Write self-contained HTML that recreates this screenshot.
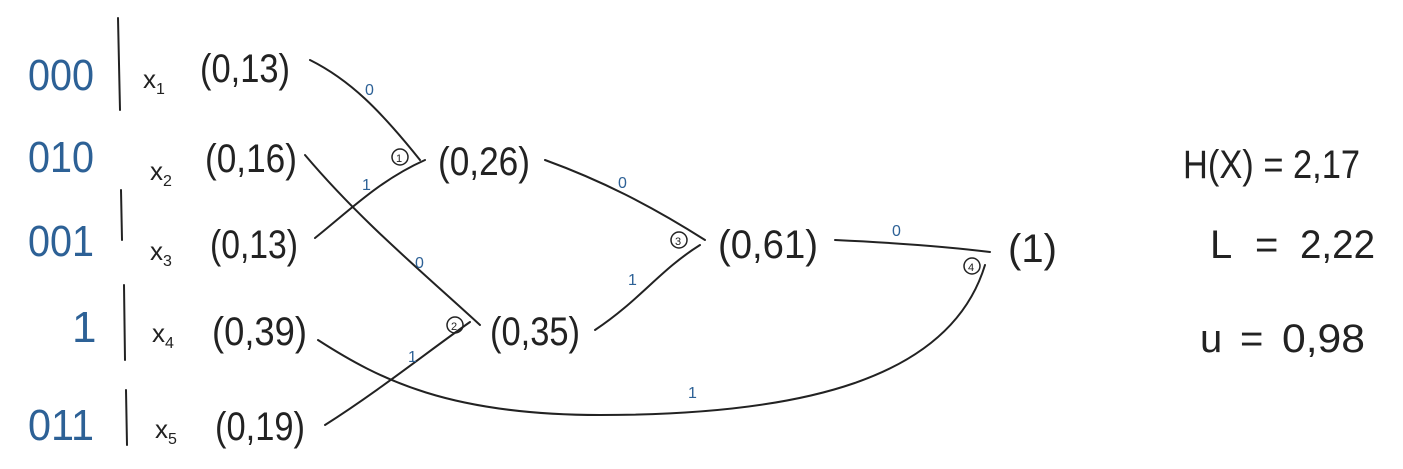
<!DOCTYPE html>
<html><head><meta charset="utf-8"><style>
body{margin:0;background:#fff;}
svg{display:block}
.b{fill:#2d6196;font-family:"Liberation Sans",sans-serif;}
.k{fill:#222;font-family:"Liberation Sans",sans-serif;}
path{fill:none;stroke:#222;stroke-width:2;stroke-linecap:round}
circle{fill:none;stroke:#222;stroke-width:1.5}
</style></head><body>
<svg width="1403" height="469" viewBox="0 0 1403 469">
<g class="b" font-size="44">
<text x="28" y="90" textLength="66" lengthAdjust="spacingAndGlyphs">000</text>
<text x="28" y="172" textLength="66" lengthAdjust="spacingAndGlyphs">010</text>
<text x="28" y="256" textLength="66" lengthAdjust="spacingAndGlyphs">001</text>
<text x="72" y="342">1</text>
<text x="28" y="440" textLength="66" lengthAdjust="spacingAndGlyphs">011</text>
</g>
<path d="M118 18 L120 110 M121 190 L122 240 M124 285 L125 360 M126 390 L127 445"/>
<g class="k" font-size="40">
<text x="143" y="88" font-size="26">x<tspan font-size="16" dy="6">1</tspan></text>
<text x="200" y="82" textLength="90" lengthAdjust="spacingAndGlyphs">(0,13)</text>
<text x="150" y="180" font-size="26">x<tspan font-size="16" dy="6">2</tspan></text>
<text x="205" y="172" textLength="92" lengthAdjust="spacingAndGlyphs">(0,16)</text>
<text x="150" y="260" font-size="26">x<tspan font-size="16" dy="6">3</tspan></text>
<text x="210" y="258" textLength="88" lengthAdjust="spacingAndGlyphs">(0,13)</text>
<text x="152" y="342" font-size="26">x<tspan font-size="16" dy="6">4</tspan></text>
<text x="212" y="345" textLength="95" lengthAdjust="spacingAndGlyphs">(0,39)</text>
<text x="155" y="438" font-size="26">x<tspan font-size="16" dy="6">5</tspan></text>
<text x="215" y="440" textLength="90" lengthAdjust="spacingAndGlyphs">(0,19)</text>
<text x="438" y="175" textLength="92" lengthAdjust="spacingAndGlyphs">(0,26)</text>
<text x="490" y="345" textLength="90" lengthAdjust="spacingAndGlyphs">(0,35)</text>
<text x="718" y="258" textLength="100" lengthAdjust="spacingAndGlyphs">(0,61)</text>
<text x="1008" y="262">(1)</text>
<text x="1183" y="178" textLength="177" lengthAdjust="spacingAndGlyphs">H(X) = 2,17</text>
<text x="1210" y="258">L</text><text x="1255" y="258">=</text>
<text x="1300" y="258" textLength="75" lengthAdjust="spacingAndGlyphs">2,22</text>
<text x="1200" y="352">u</text><text x="1240" y="352">=</text>
<text x="1282" y="352" textLength="83" lengthAdjust="spacingAndGlyphs">0,98</text>
</g>
<path d="M310 60 C350 80 380 110 420 160"/>
<path d="M315 238 C350 210 380 180 425 160"/>
<path d="M305 155 C360 220 420 270 480 325"/>
<path d="M325 425 C380 390 430 350 470 322"/>
<path d="M545 160 C600 180 650 205 705 240"/>
<path d="M595 330 C640 300 660 270 700 245"/>
<path d="M835 240 C900 243 950 247 990 252"/>
<path d="M318 340 C380 380 450 415 600 415 C800 415 950 380 985 265"/>
<circle cx="400" cy="157" r="8"/><text class="k" x="396" y="162" font-size="11">1</text>
<circle cx="455" cy="325" r="8"/><text class="k" x="451" y="330" font-size="11">2</text>
<circle cx="679" cy="240" r="8"/><text class="k" x="675" y="245" font-size="11">3</text>
<circle cx="972" cy="266" r="8"/><text class="k" x="968" y="271" font-size="11">4</text>
<g class="b" font-size="16">
<text x="365" y="95">0</text><text x="362" y="190">1</text>
<text x="415" y="268">0</text><text x="408" y="362">1</text>
<text x="618" y="188">0</text><text x="628" y="285">1</text>
<text x="892" y="236">0</text><text x="688" y="398">1</text>
</g>
</svg>
</body></html>
